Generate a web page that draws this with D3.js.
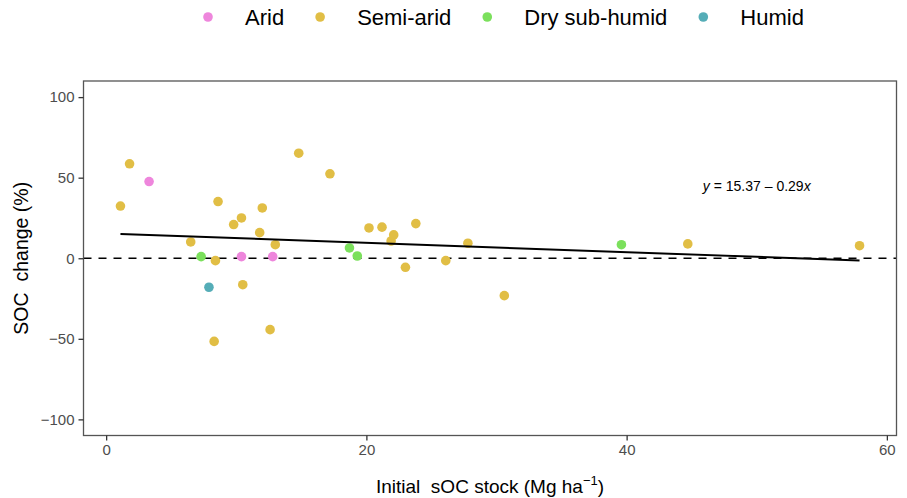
<!DOCTYPE html>
<html>
<head>
<meta charset="utf-8">
<script src="https://cdn.jsdelivr.net/npm/d3@7.9.0/dist/d3.min.js"></script>
<style>
  body { margin: 0; background: #fff; }
  svg { font-family: "Liberation Sans", Arial, sans-serif; }
</style>
</head>
<body>
<svg id="chart" width="907" height="498"></svg>
<script>
// Climate categories and colours
const climates = ['Arid', 'Semi-arid', 'Dry sub-humid', 'Humid'];
const climateColors = ['#EE86DC', '#E1BE45', '#7BE05C', '#55ADB7'];

const climate = [
  'Semi-arid', 'Semi-arid', 'Semi-arid', 'Semi-arid', 'Semi-arid', 'Semi-arid',
  'Semi-arid', 'Semi-arid', 'Semi-arid', 'Semi-arid', 'Semi-arid', 'Semi-arid',
  'Semi-arid', 'Semi-arid', 'Semi-arid', 'Semi-arid', 'Semi-arid', 'Semi-arid',
  'Semi-arid', 'Semi-arid', 'Semi-arid', 'Semi-arid', 'Semi-arid', 'Semi-arid',
  'Semi-arid', 'Semi-arid',
  'Arid', 'Arid', 'Arid',
  'Dry sub-humid', 'Dry sub-humid', 'Dry sub-humid', 'Dry sub-humid',
  'Humid'
];
const stock = [
  1.1, 1.8, 6.5, 8.4, 8.3, 8.6, 9.8, 10.4, 10.5, 11.8, 12.0, 12.6, 13.0,
  14.8, 17.2, 20.2, 21.2, 21.9, 22.1, 23.0, 23.8, 26.1, 27.8, 30.6, 44.7, 57.9,
  3.3, 10.4, 12.8,
  7.3, 18.7, 19.3, 39.6,
  7.9
];
const change = [
  32.4, 58.6, 10.1, -1.5, -51.6, 35.2, 20.9, 25.0, -16.4, 15.9, 31.2, -44.3, 8.4,
  65.2, 52.4, 18.8, 19.3, 10.7, 14.5, -5.6, 21.5, -1.5, 9.3, -23.2, 8.9, 7.8,
  47.6, 1.0, 1.0,
  1.0, 6.4, 1.4, 8.4,
  -18.0
];

// Fitted line
const intercept = 15.37;
const slope = -0.29;

const xTicks = [0, 20, 40, 60];
const yTicks = [-100, -50, 0, 50, 100];

const svg = d3.select('#chart');
const margin = { left: 83.5, right: 10.5, top: 81, bottom: 62.5 };
const width = 907, height = 498;

const data = stock.map((s, i) => ({ x: s, y: change[i], c: climate[i] }));

// ggplot-style 5% expansion on x
const xExt = d3.extent(stock);
const pad = (xExt[1] - xExt[0]) * 0.05;
const x = d3.scaleLinear()
  .domain([xExt[0] - pad, xExt[1] + pad])
  .range([margin.left, width - margin.right]);
const y = d3.scaleLinear()
  .domain([-110, 110])
  .range([height - margin.bottom, margin.top]);
const color = d3.scaleOrdinal().domain(climates).range(climateColors);

// Zero reference line
svg.append('line')
  .attr('x1', margin.left).attr('x2', width - margin.right)
  .attr('y1', y(0)).attr('y2', y(0))
  .attr('stroke', '#000')
  .attr('stroke-width', 1.5)
  .attr('stroke-dasharray', '8,7');

// Points
svg.append('g')
  .selectAll('circle')
  .data(data)
  .join('circle')
  .attr('cx', d => x(d.x))
  .attr('cy', d => y(d.y))
  .attr('r', 4.8)
  .attr('fill', d => color(d.c));

// Regression line over the data range
svg.append('line')
  .attr('x1', x(xExt[0])).attr('y1', y(intercept + slope * xExt[0]))
  .attr('x2', x(xExt[1])).attr('y2', y(intercept + slope * xExt[1]))
  .attr('stroke', '#000')
  .attr('stroke-width', 2);

// Equation label
const eq = svg.append('text')
  .attr('x', x(50)).attr('y', y(45))
  .attr('text-anchor', 'middle')
  .attr('dominant-baseline', 'central')
  .attr('font-size', 14)
  .attr('fill', '#000');
eq.append('tspan').attr('font-style', 'italic').text('y');
eq.append('tspan').text(' = 15.37 \u2013 0.29');
eq.append('tspan').attr('font-style', 'italic').text('x');

// Panel border
svg.append('rect')
  .attr('x', margin.left).attr('y', margin.top)
  .attr('width', width - margin.left - margin.right)
  .attr('height', height - margin.top - margin.bottom)
  .attr('fill', 'none')
  .attr('stroke', '#555')
  .attr('stroke-width', 1.3);

// Axes
const xAxis = svg.append('g')
  .attr('transform', `translate(0,${height - margin.bottom})`)
  .call(d3.axisBottom(x).tickValues(xTicks).tickSize(5).tickPadding(4));
const yAxis = svg.append('g')
  .attr('transform', `translate(${margin.left},0)`)
  .call(d3.axisLeft(y).tickValues(yTicks).tickSize(5).tickPadding(4)
    .tickFormat(d => d < 0 ? '\u2212' + Math.abs(d) : d));
[xAxis, yAxis].forEach(g => {
  g.select('.domain').remove();
  g.selectAll('.tick line').attr('stroke', '#333').attr('stroke-width', 1.3);
  g.selectAll('.tick text').attr('fill', '#4d4d4d').attr('font-size', 15);
});

// Axis titles
const xt = svg.append('text')
  .attr('x', (margin.left + width - margin.right) / 2)
  .attr('y', 493)
  .attr('text-anchor', 'middle')
  .attr('font-size', 19)
  .attr('fill', '#000')
  .style('white-space', 'pre');
xt.append('tspan').text('Initial  sOC stock (Mg ha');
xt.append('tspan').attr('font-size', 13).attr('dy', -8).text('\u22121');
xt.append('tspan').attr('dy', 8).text(')');

svg.append('text')
  .attr('transform', `translate(28,${(margin.top + height - margin.bottom) / 2}) rotate(-90)`)
  .attr('text-anchor', 'middle')
  .attr('font-size', 19.5)
  .attr('fill', '#000')
  .style('white-space', 'pre')
  .text('SOC  change (%)');

// Legend across the top
const legend = svg.append('g');
let lx = 208;
climates.forEach((c, i) => {
  legend.append('circle')
    .attr('cx', lx).attr('cy', 17).attr('r', 4.8)
    .attr('fill', climateColors[i]);
  const t = legend.append('text')
    .attr('x', lx + 37).attr('y', 17)
    .attr('dominant-baseline', 'central')
    .attr('font-size', 22)
    .attr('fill', '#000')
    .text(c);
  lx = lx + 37 + t.node().getComputedTextLength() + 36;
});
</script>
</body>
</html>
